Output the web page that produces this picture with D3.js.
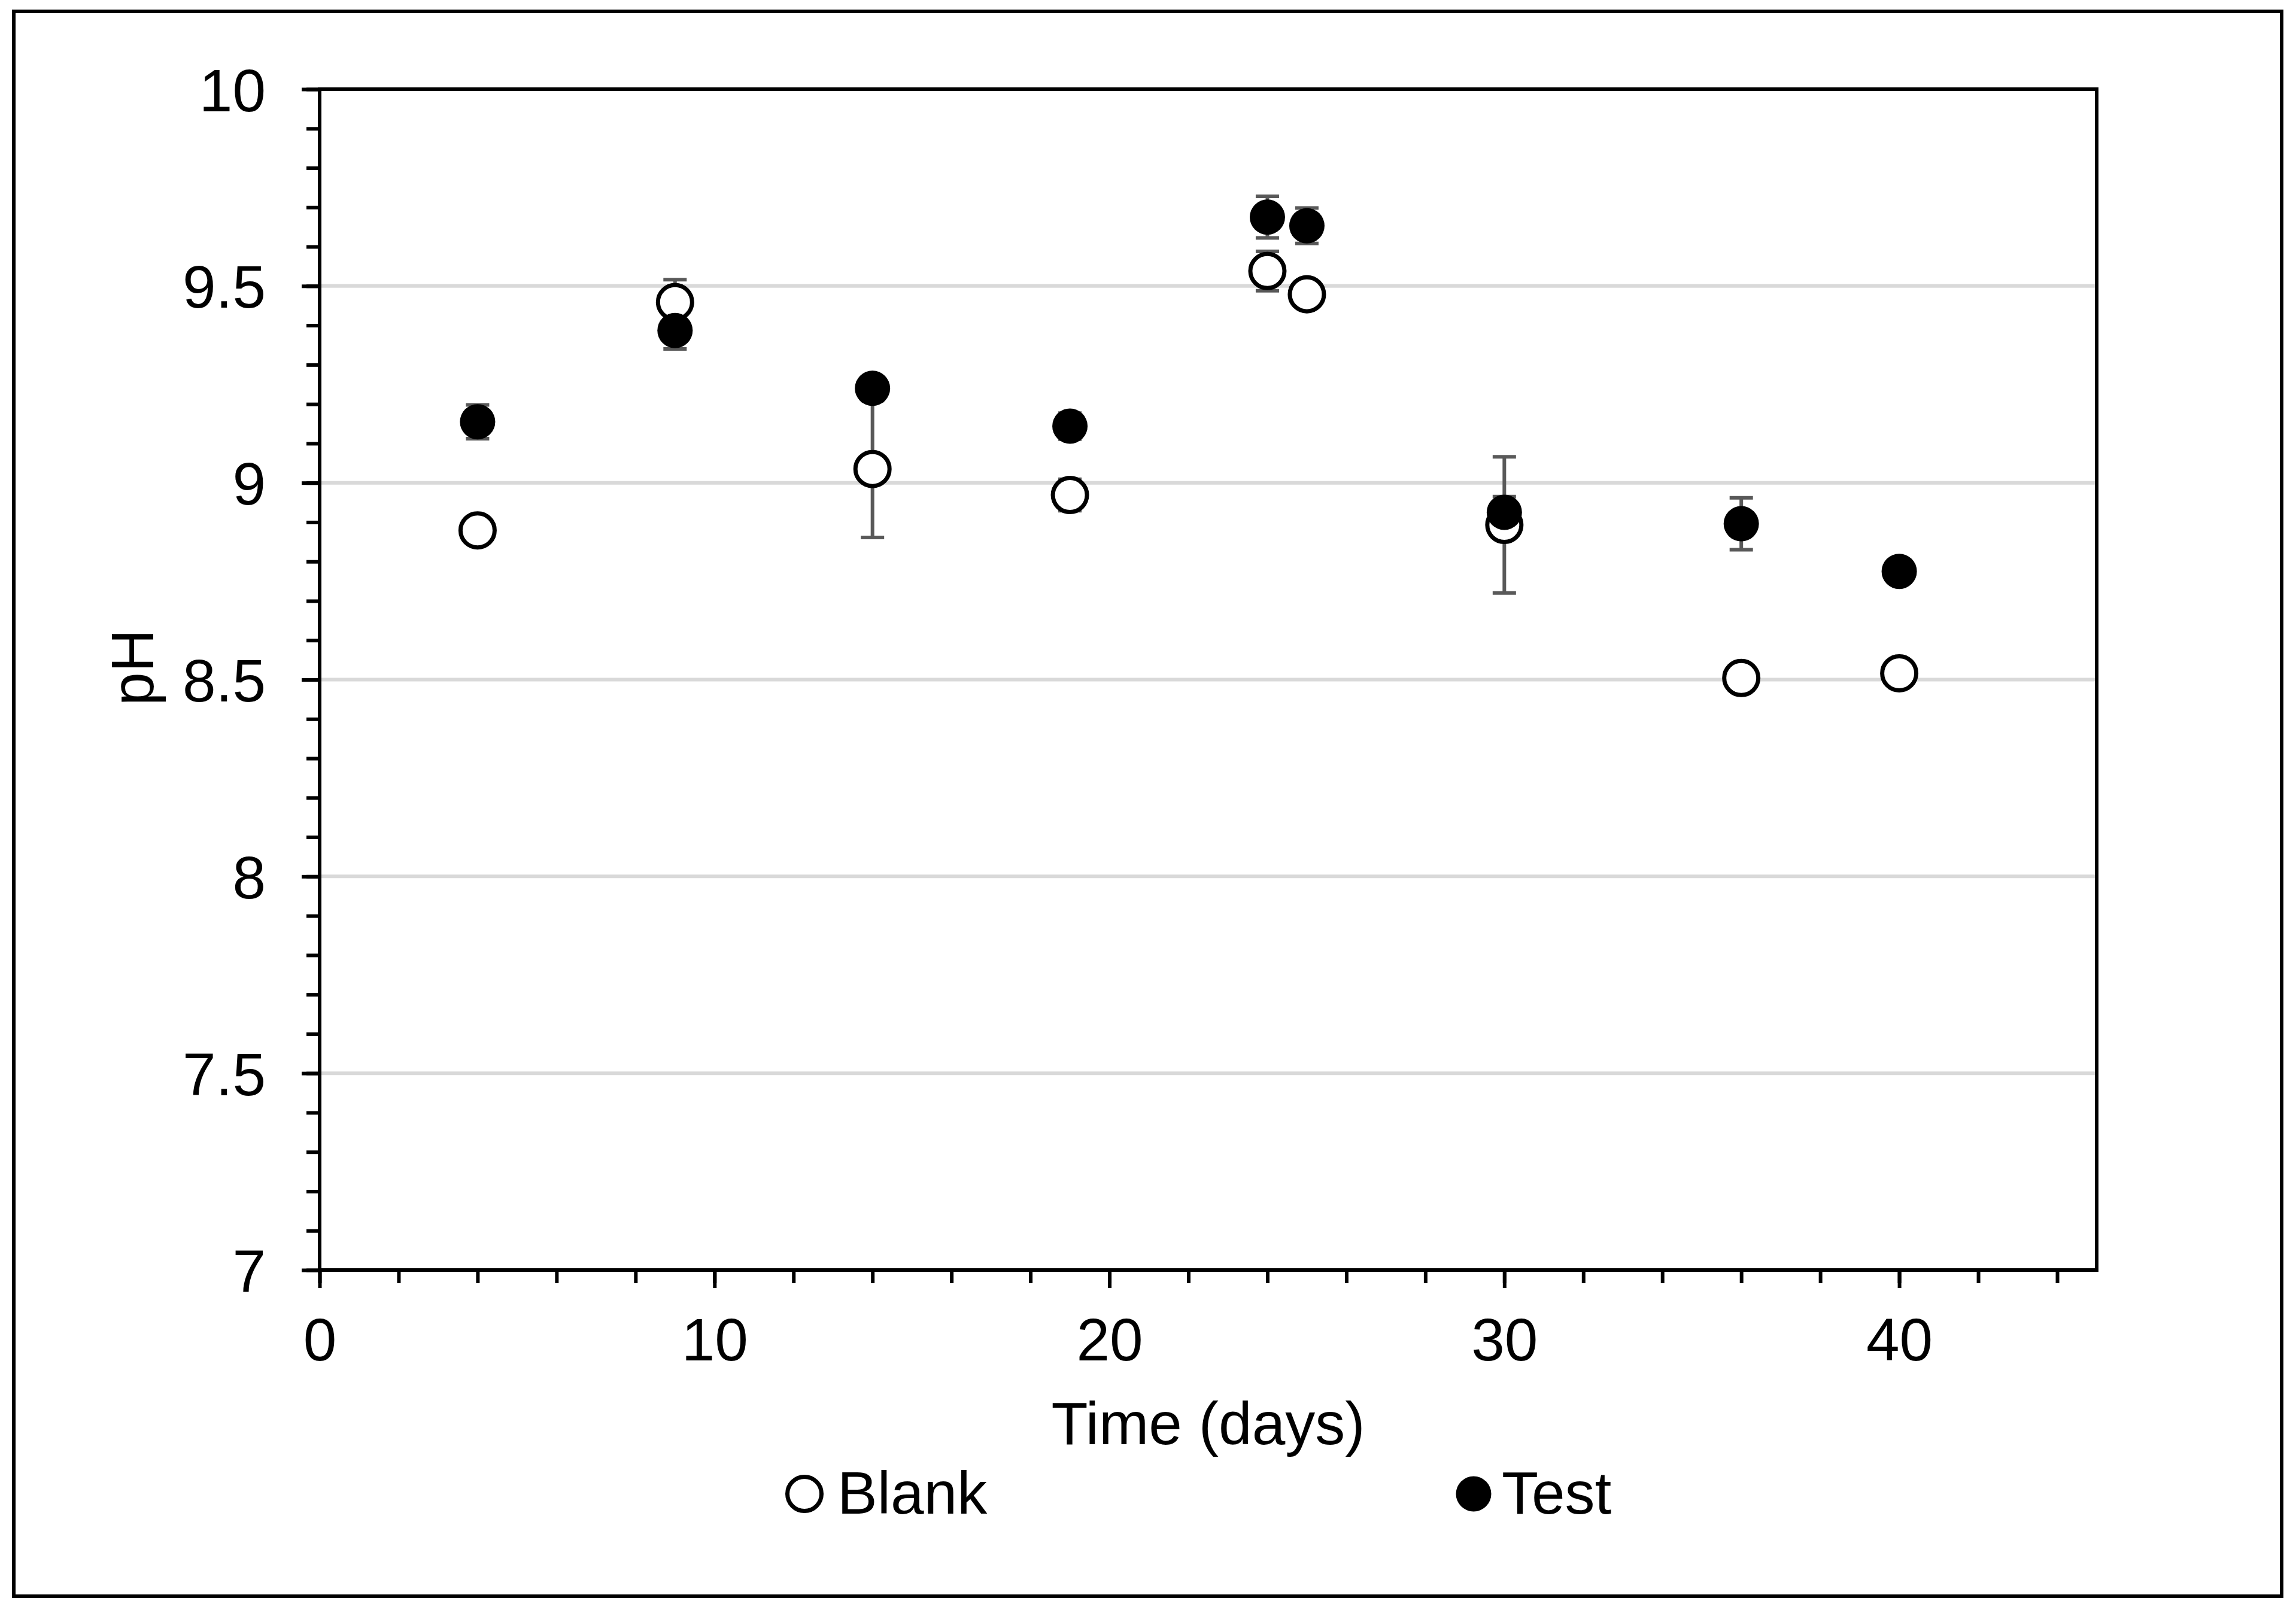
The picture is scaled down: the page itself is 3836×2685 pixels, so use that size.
<!DOCTYPE html>
<html>
<head>
<meta charset="utf-8">
<script src="https://cdn.jsdelivr.net/npm/d3@7"></script>
<style>
  body { margin: 0; background: #fff; }
  text { font-family: "Liberation Sans", Arial, sans-serif; fill: #000; }
</style>
</head>
<body>
<div class="chart"></div>
<script>
// pH data
var days      = [4, 9, 14, 19, 24, 25, 30, 36, 40];
var blankPH   = [8.879, 9.459, 9.035, 8.969, 9.538, 9.479, 8.893, 8.504, 8.516];
var blankErr  = [0.02, 0.057, 0.174, 0.04, 0.05, 0.02, 0.173, 0.02, 0.02];
var testPH    = [9.155, 9.387, 9.240, 9.144, 9.675, 9.653, 8.925, 8.896, 8.775];
var testErr   = [0.043, 0.047, 0.02, 0.033, 0.053, 0.045, 0.04, 0.066, 0.02];
var xTicks    = [0, 10, 20, 30, 40];
var yTicks    = [7, 7.5, 8, 8.5, 9, 9.5, 10];
var seriesNames = ["Blank", "Test"];

var W = 3836, H = 2685;
var margin = {top: 149, right: 333, bottom: 563, left: 534},
    width  = W - margin.left - margin.right,
    height = H - margin.top - margin.bottom;

var svg = d3.select(".chart").append("svg").attr("width", W).attr("height", H);

// outer frame
svg.append("rect").attr("x", 23).attr("y", 19).attr("width", 3789).attr("height", 2648)
   .attr("fill", "#fff").attr("stroke", "#000").attr("stroke-width", 6);

var x = d3.scaleLinear().domain([0, 45]).range([0, width]),
    y = d3.scaleLinear().domain([7, 10]).range([height, 0]);

var g = svg.append("g").attr("transform", `translate(${margin.left},${margin.top})`);

// gridlines
g.selectAll(".grid").data(yTicks.filter(d => d > 7 && d < 10))
  .enter().append("line")
    .attr("x1", 0).attr("x2", width)
    .attr("y1", d => y(d)).attr("y2", d => y(d))
    .attr("stroke", "#d9d9d9").attr("stroke-width", 6);

// minor ticks
g.append("g").attr("class", "axis")
  .call(d3.axisLeft(y).tickValues(d3.range(7, 10.001, 0.1)).tickSize(22).tickFormat(""));
g.append("g").attr("class", "axis").attr("transform", `translate(0,${height})`)
  .call(d3.axisBottom(x).tickValues(d3.range(0, 45, 2)).tickSize(22).tickFormat(""));

// major ticks + labels
var yAxis = g.append("g").attr("class", "axis")
  .call(d3.axisLeft(y).tickValues(yTicks).tickSize(30).tickPadding(60).tickFormat(d3.format("")));
yAxis.selectAll("text").attr("dy", "0.36em");

var xAxis = g.append("g").attr("class", "axis").attr("transform", `translate(0,${height})`)
  .call(d3.axisBottom(x).tickValues(xTicks).tickSize(30).tickPadding(50));

svg.selectAll(".axis path").remove();
svg.selectAll(".axis line").attr("stroke", "#000").attr("stroke-width", 6);
svg.selectAll(".axis text").style("font-size", "100px").attr("fill", "#000");

// plot border
g.append("rect").attr("width", width).attr("height", height)
  .attr("fill", "none").attr("stroke", "#000").attr("stroke-width", 6);

// error bars
var blankData = days.map((d, i) => ({day: d, v: blankPH[i], e: blankErr[i]}));
var testData  = days.map((d, i) => ({day: d, v: testPH[i], e: testErr[i]}));

function errorBars(data) {
  var eb = g.append("g").attr("stroke", "#595959").attr("stroke-width", 6);
  eb.selectAll(".v").data(data).enter().append("line")
    .attr("x1", d => x(d.day)).attr("x2", d => x(d.day))
    .attr("y1", d => y(d.v - d.e)).attr("y2", d => y(d.v + d.e));
  eb.selectAll(".t").data(data).enter().append("line")
    .attr("x1", d => x(d.day) - 19.5).attr("x2", d => x(d.day) + 19.5)
    .attr("y1", d => y(d.v + d.e)).attr("y2", d => y(d.v + d.e));
  eb.selectAll(".b").data(data).enter().append("line")
    .attr("x1", d => x(d.day) - 19.5).attr("x2", d => x(d.day) + 19.5)
    .attr("y1", d => y(d.v - d.e)).attr("y2", d => y(d.v - d.e));
}
errorBars(blankData);
errorBars(testData);

// markers
g.selectAll(".blank").data(blankData).enter().append("circle")
  .attr("class", "blank")
  .attr("cx", d => x(d.day)).attr("cy", d => y(d.v)).attr("r", 28.5)
  .attr("fill", "#fff").attr("stroke", "#000").attr("stroke-width", 7);

g.selectAll(".test").data(testData).enter().append("circle")
  .attr("class", "test")
  .attr("cx", d => x(d.day)).attr("cy", d => y(d.v)).attr("r", 29.5)
  .attr("fill", "#000");

// axis titles
svg.append("text").attr("x", margin.left + width / 2).attr("y", 2413)
  .attr("text-anchor", "middle").style("font-size", "100px").text("Time (days)");
svg.append("text").attr("transform", "translate(256,1115) rotate(-90)")
  .attr("text-anchor", "middle").style("font-size", "100px").text("pH");

// legend
var legend = [
  {name: seriesNames[0], cx: 1344, tx: 1399, fill: "#fff", r: 28.5, sw: 7},
  {name: seriesNames[1], cx: 2462, tx: 2509, fill: "#000", r: 29.5, sw: 0}
];
legend.forEach(l => {
  svg.append("circle").attr("cx", l.cx).attr("cy", 2496).attr("r", l.r)
    .attr("fill", l.fill).attr("stroke", "#000").attr("stroke-width", l.sw);
  svg.append("text").attr("x", l.tx).attr("y", 2529)
    .style("font-size", "100px").text(l.name);
});
</script>
</body>
</html>
